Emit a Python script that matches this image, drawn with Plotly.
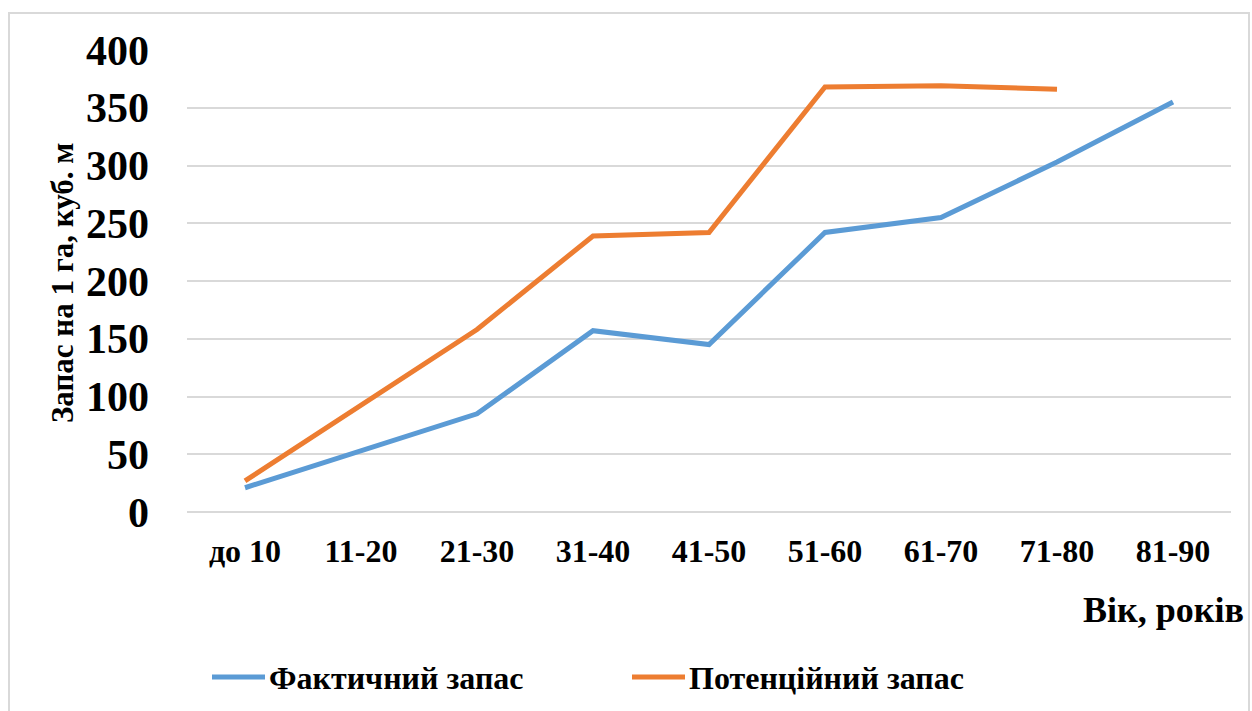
import plotly.graph_objects as go

# Age classes and growing stock per hectare (m³)
age_classes = ["до 10", "11-20", "21-30", "31-40", "41-50", "51-60", "61-70", "71-80", "81-90"]
actual_stock = [21, 53, 85, 157, 145, 242, 255, 303, 355]
potential_stock = [27, 92, 158, 239, 242, 368, 369, 366]

series_names = ["Фактичний запас", "Потенційний запас"]
series_colors = ["#5B9BD5", "#ED7D31"]

FONT = "Liberation Serif"
W, H = 1252, 711
L, R, T, B = 187, 21, 50, 199
pw, ph = W - L - R, H - T - B


def px_x(p):
    return (p - L) / pw


def px_y(p):
    return (H - B - p) / ph


fig = go.Figure()
fig.add_trace(go.Scatter(
    x=age_classes, y=actual_stock, mode="lines", name=series_names[0],
    line=dict(color=series_colors[0], width=5),
))
fig.add_trace(go.Scatter(
    x=age_classes[:len(potential_stock)], y=potential_stock, mode="lines",
    name=series_names[1],
    line=dict(color=series_colors[1], width=5),
))

# Legend drawn below the plot: a line swatch followed by the series name
legend_shapes, legend_notes = [], []
for (x0, name, color) in zip([212, 632], series_names, series_colors):
    legend_shapes.append(dict(
        type="line", xref="paper", yref="paper",
        x0=px_x(x0), x1=px_x(x0 + 53), y0=px_y(677), y1=px_y(677),
        line=dict(color=color, width=5),
    ))
    legend_notes.append(dict(
        text=name, xref="paper", yref="paper", x=px_x(x0 + 55), y=px_y(678),
        xanchor="left", yanchor="middle", showarrow=False,
        font=dict(family=FONT, size=32, color="black", weight="bold"),
    ))

fig.update_layout(
    width=W, height=H,
    margin=dict(l=L, r=R, t=T, b=B),
    paper_bgcolor="white", plot_bgcolor="white",
    font=dict(family=FONT, color="black", weight="bold"),
    showlegend=False,
    xaxis=dict(
        type="category", range=[-0.5, 8.5],
        showgrid=False, zeroline=False, showline=False,
        tickfont=dict(family=FONT, size=32, color="black", weight="bold"),
        ticklabelstandoff=17,
    ),
    yaxis=dict(
        range=[0, 400], dtick=50,
        showgrid=True, gridcolor="#D9D9D9", gridwidth=1.5,
        zeroline=True, zerolinecolor="#D9D9D9", zerolinewidth=1.5,
        showline=False,
        tickfont=dict(family=FONT, size=42, color="black", weight="bold"),
        ticklabelstandoff=37,
    ),
    annotations=[
        dict(text="Запас на 1 га, куб. м", textangle=-90, xref="paper", yref="paper",
             x=px_x(62), y=px_y(283), xanchor="center", yanchor="middle", showarrow=False,
             font=dict(family=FONT, size=31, color="black", weight="bold")),
        dict(text="Вік, років", xref="paper", yref="paper",
             x=px_x(1246), y=px_y(610), xanchor="right", yanchor="middle", showarrow=False,
             font=dict(family=FONT, size=36, color="black", weight="bold")),
    ] + legend_notes,
    shapes=[
        dict(type="rect", xref="paper", yref="paper",
             x0=px_x(9), x1=px_x(1249), y0=px_y(730), y1=px_y(13),
             line=dict(color="#D9D9D9", width=2), fillcolor="rgba(0,0,0,0)", layer="below"),
    ] + legend_shapes,
)

fig.write_html("out.html")
